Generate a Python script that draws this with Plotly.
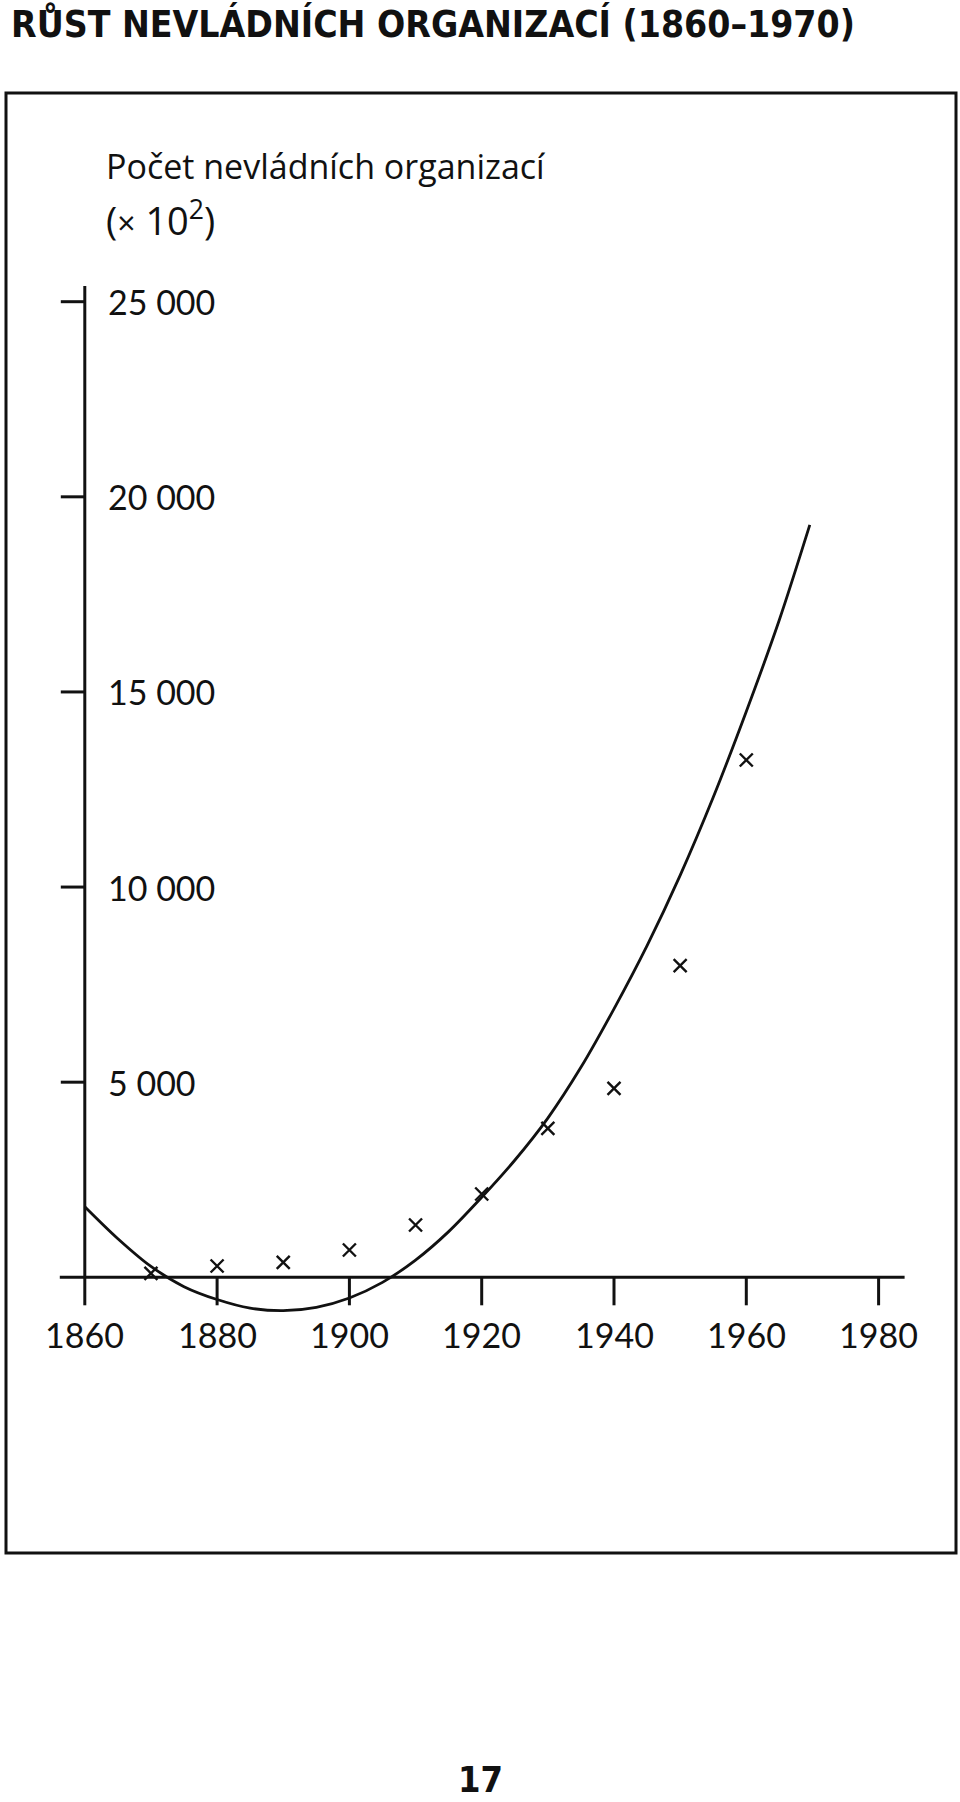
import plotly.graph_objects as go

# ---------------- data ----------------
curve_years = [1860, 1865, 1870, 1875, 1880, 1885, 1890, 1895, 1900, 1905, 1910,
               1915, 1920, 1925, 1930, 1935, 1940, 1945, 1950, 1955, 1960, 1965, 1969.6]
curve_values = [1810, 990, 280, -240, -570, -790, -855, -770, -530, -130, 440,
                1170, 2050, 3000, 4080, 5380, 6880, 8500, 10300, 12300, 14500, 16850, 19280]

obs_years = [1870, 1880, 1890, 1900, 1910, 1920, 1930, 1940, 1950, 1960]
obs_values = [102, 290, 384, 700, 1340, 2135, 3818, 4843, 7985, 13256]

x_ticks = [1860, 1880, 1900, 1920, 1940, 1960, 1980]
x_tick_labels = ["1860", "1880", "1900", "1920", "1940", "1960", "1980"]
y_ticks = [5000, 10000, 15000, 20000, 25000]
y_tick_labels = ["5 000", "10 000", "15 000", "20 000", "25 000"]

title_text = "<b>RŮST NEVLÁDNÍCH ORGANIZACÍ (1860–1970)</b>"
axis_title_1 = "Počet nevládních organizací"
axis_title_2 = "(<span style='font-size:32px'>×</span> 10<sup>2</sup>)"
page_number = "<b>17</b>"

# ---------------- layout geometry ----------------
W, H = 960, 1802
X_PX0, X_PPY = 84.8, 6.615      # pixel of year 1860, pixels per year
Y_PX0, Y_PPU = 1277.3, 0.039024  # pixel of value 0, pixels per unit

x_range = [1860 - X_PX0 / X_PPY, 1860 + (W - X_PX0) / X_PPY]
y_range = [-(H - Y_PX0) / Y_PPU, Y_PX0 / Y_PPU]

def dx(px):  # pixel length -> data length (x)
    return px / X_PPY

def dy(px):  # pixel length -> data length (y)
    return px / Y_PPU

def py(px_from_top):  # paper fraction from pixel row
    return 1 - px_from_top / H

def pxf(px):
    return px / W

BLACK = "#111111"
LABEL_FONT = "Lato, 'Open Sans', sans-serif"
TITLE_FONT = "'Open Sans', Lato, sans-serif"
BOLD_FONT = "'Liberation Sans Narrow', 'DejaVu Sans Condensed', 'Arial Narrow', sans-serif"

fig = go.Figure()

fig.add_trace(go.Scatter(
    x=curve_years, y=curve_values, mode="lines",
    line=dict(color=BLACK, width=2.8, shape="spline", smoothing=0.9),
    hoverinfo="skip", showlegend=False,
))
fig.add_trace(go.Scatter(
    x=obs_years, y=obs_values, mode="markers",
    marker=dict(symbol="x-thin", size=13, line=dict(color=BLACK, width=2.4)),
    cliponaxis=False, showlegend=False,
))

shapes = []
# frame
shapes.append(dict(type="rect", xref="paper", yref="paper",
                   x0=pxf(6), x1=pxf(956), y0=py(1553), y1=py(93),
                   line=dict(color=BLACK, width=3)))
# y axis line
y_top = 25000 + dy(301.7 - 286)
shapes.append(dict(type="line", xref="x", yref="y",
                   x0=x_ticks[0], x1=x_ticks[0], y0=0, y1=y_top,
                   line=dict(color=BLACK, width=3)))
# x axis line
shapes.append(dict(type="line", xref="x", yref="y",
                   x0=x_ticks[0] - dx(25), x1=x_ticks[-1] + dx(26), y0=0, y1=0,
                   line=dict(color=BLACK, width=3)))
# y ticks
for v in y_ticks:
    shapes.append(dict(type="line", xref="x", yref="y",
                       x0=x_ticks[0] - dx(24), x1=x_ticks[0], y0=v, y1=v,
                       line=dict(color=BLACK, width=3)))
# x ticks
for t in x_ticks:
    shapes.append(dict(type="line", xref="x", yref="y",
                       x0=t, x1=t, y0=0, y1=-dy(28),
                       line=dict(color=BLACK, width=3)))

annotations = []
for v, lab in zip(y_ticks, y_tick_labels):
    annotations.append(dict(x=x_ticks[0] + dx(21), y=v, xref="x", yref="y",
                            text=lab, showarrow=False, xanchor="left", yanchor="middle",
                            font=dict(family=LABEL_FONT, size=34, color=BLACK)))
for t, lab in zip(x_ticks, x_tick_labels):
    annotations.append(dict(x=t, y=-dy(57), xref="x", yref="y",
                            text=lab, showarrow=False, xanchor="center", yanchor="middle",
                            font=dict(family=LABEL_FONT, size=34, color=BLACK)))

annotations.append(dict(x=pxf(9), y=py(24), xref="paper", yref="paper",
                        text=title_text, showarrow=False, xanchor="left", yanchor="middle",
                        font=dict(family=BOLD_FONT, size=37, color=BLACK)))
annotations.append(dict(x=pxf(104), y=py(166), xref="paper", yref="paper",
                        text=axis_title_1, showarrow=False, xanchor="left", yanchor="middle",
                        font=dict(family=TITLE_FONT, size=34, color=BLACK)))
annotations.append(dict(x=pxf(104), y=py(219), xref="paper", yref="paper",
                        text=axis_title_2, showarrow=False, xanchor="left", yanchor="middle",
                        font=dict(family=TITLE_FONT, size=38, color=BLACK)))
annotations.append(dict(x=pxf(480), y=0, xref="paper", yref="paper",
                        text=page_number, showarrow=False, xanchor="center", yanchor="bottom",
                        font=dict(family=BOLD_FONT, size=36, color=BLACK)))

fig.update_layout(
    width=W, height=H,
    margin=dict(l=0, r=0, t=0, b=0, pad=0),
    paper_bgcolor="white", plot_bgcolor="white",
    xaxis=dict(range=x_range, visible=False, domain=[0, 1], fixedrange=True),
    yaxis=dict(range=y_range, visible=False, domain=[0, 1], fixedrange=True),
    shapes=shapes, annotations=annotations,
    showlegend=False,
)

fig.write_html("out.html")
